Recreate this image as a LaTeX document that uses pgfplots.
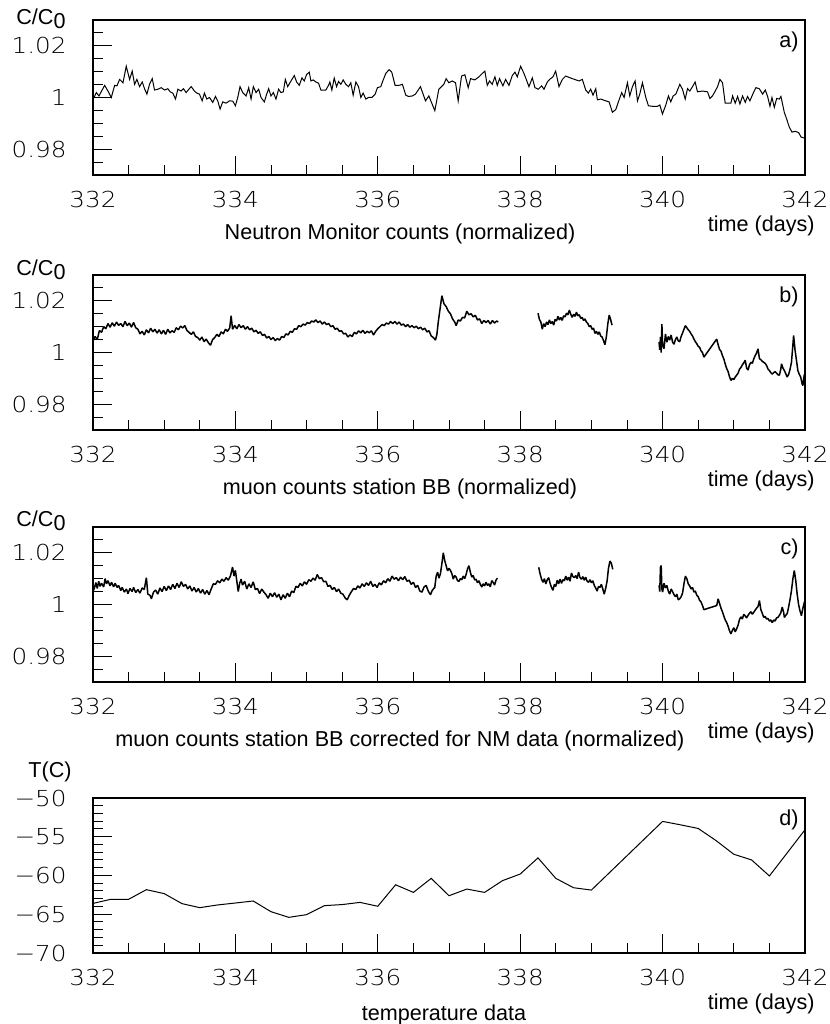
\documentclass[border=0pt]{standalone}
\usepackage{fontspec}
\setmainfont{Liberation Sans}
\newfontfamily\tickfont[FakeStretch=1.12]{DejaVu Sans ExtraLight}
\usepackage{pgfplots}
\pgfplotsset{compat=1.18}
\newcommand\lab{\fontsize{10.8}{12}\selectfont}
\pgfplotsset{
  panel/.style={
    scale only axis, width=356pt, height=77.5pt,
    anchor=north west,
    xmin=332, xmax=342,
    xtick={332,334,336,338,340,342},
    xticklabels={332,334,336,338,340,342},
    minor xtick={332.5,333,...,341.5},
    tick align=inside, tick pos=left,
    major tick length=9.5pt, minor tick length=5pt,
    axis line style={line width=0.75pt},
    every tick/.append style={black, line width=0.5pt},
    tick label style={font=\tickfont\fontsize{11}{12}\selectfont},
    xticklabel style={anchor=north, inner sep=0pt, yshift=-8pt},
    yticklabel style={anchor=east, inner sep=0pt, xshift=-13pt},
    unbounded coords=jump,
  },
  cpanel/.style={panel, ymin=0.97, ymax=1.03,
    ytick={0.98,1,1.02}, yticklabels={0.98,1,1.02},
    minor ytick={0.975,0.985,0.99,0.995,1.005,1.01,1.015,1.025}},
  dline/.style={black, line width=0.5pt, mark=none},
  mline/.style={black, line width=0.75pt, mark=none, line join=bevel},
}
\begin{document}
\begin{tikzpicture}
\useasboundingbox (0,0) rectangle (415pt,512pt);
% ---------------- a) ----------------
\begin{axis}[cpanel, at={(46.5pt,502pt)}]
\addplot[dline] table {
x y
332.014 1.0000
332.047 1.0019
332.084 1.0006
332.164 1.0047
332.210 1.0025
332.257 1.0000
332.304 1.0047
332.336 1.0045
332.374 1.0070
332.421 1.0057
332.467 1.0121
332.514 1.0070
332.551 1.0102
332.584 1.0051
332.617 1.0070
332.654 1.0042
332.692 1.0060
332.724 1.0034
332.757 1.0013
332.794 1.0051
332.832 1.0073
332.864 1.0029
332.911 1.0032
332.958 1.0038
333.005 1.0029
333.051 1.0034
333.084 1.0022
333.121 1.0017
333.159 0.9994
333.192 1.0032
333.238 1.0025
333.271 1.0034
333.308 1.0019
333.346 1.0032
333.379 1.0042
333.425 1.0025
333.458 1.0017
333.495 1.0013
333.533 0.9987
333.565 1.0017
333.598 0.9994
333.636 1.0000
333.682 0.9981
333.720 1.0004
333.752 0.9987
333.785 0.9955
333.822 0.9983
333.869 0.9978
333.916 0.9987
333.963 0.9986
334.000 0.9968
334.033 1.0000
334.065 1.0042
334.103 1.0019
334.150 1.0006
334.187 1.0038
334.220 0.9994
334.252 1.0042
334.290 1.0019
334.327 1.0032
334.360 1.0000
334.407 0.9983
334.439 1.0013
334.467 1.0034
334.500 1.0006
334.533 1.0019
334.570 0.9994
334.607 1.0032
334.640 1.0019
334.673 1.0022
334.701 1.0070
334.734 1.0042
334.766 1.0057
334.794 1.0070
334.827 1.0085
334.860 1.0060
334.897 1.0047
334.935 1.0076
334.967 1.0064
335.000 1.0089
335.037 1.0098
335.061 1.0064
335.093 1.0068
335.131 1.0060
335.168 1.0055
335.201 1.0029
335.234 1.0029
335.271 1.0029
335.308 1.0047
335.327 1.0060
335.355 1.0029
335.388 1.0075
335.421 1.0042
335.449 1.0062
335.481 1.0051
335.514 1.0068
335.551 1.0051
335.589 1.0042
335.621 1.0057
335.654 1.0009
335.692 1.0060
335.729 1.0042
335.762 1.0000
335.794 1.0017
335.832 0.9994
335.869 1.0000
335.916 1.0000
335.963 1.0013
335.995 1.0038
336.042 1.0042
336.065 1.0060
336.112 1.0093
336.159 1.0108
336.196 1.0098
336.243 1.0047
336.299 1.0047
336.346 1.0051
336.393 1.0009
336.430 1.0004
336.486 1.0006
336.529 1.0013
336.599 1.0042
336.670 0.9987
336.717 1.0006
336.801 0.9949
336.857 1.0032
336.927 1.0051
336.960 1.0073
336.998 1.0057
337.045 1.0064
337.092 1.0057
337.129 0.9987
337.176 1.0083
337.223 1.0088
337.270 1.0038
337.303 1.0073
337.363 1.0068
337.420 1.0080
337.467 1.0093
337.504 1.0102
337.537 1.0047
337.570 1.0064
337.607 1.0051
337.645 1.0080
337.678 1.0047
337.710 1.0073
337.757 1.0045
337.795 1.0070
337.842 1.0047
337.889 1.0085
337.926 1.0098
337.959 1.0080
338.006 1.0121
338.053 1.0093
338.085 1.0070
338.123 1.0042
338.170 1.0076
338.207 1.0038
338.254 1.0032
338.301 1.0045
338.334 1.0032
338.381 1.0060
338.413 1.0070
338.460 1.0080
338.498 1.0102
338.545 1.0042
338.592 1.0070
338.639 1.0083
338.732 1.0073
338.826 1.0064
338.873 1.0070
338.920 1.0029
338.957 1.0017
338.990 1.0032
339.023 1.0009
339.061 1.0034
339.084 0.9991
339.131 0.9994
339.201 0.9987
339.248 0.9983
339.295 0.9943
339.342 0.9953
339.389 0.9991
339.426 1.0019
339.459 1.0000
339.506 1.0057
339.539 1.0006
339.576 1.0042
339.614 1.0064
339.647 0.9987
339.679 1.0013
339.717 1.0057
339.764 1.0000
339.801 0.9968
339.857 0.9966
339.928 0.9966
339.961 0.9971
339.998 0.9936
340.045 0.9971
340.082 1.0006
340.115 0.9983
340.148 1.0006
340.186 1.0013
340.242 1.0051
340.279 1.0032
340.317 0.9994
340.350 1.0034
340.382 1.0025
340.420 1.0042
340.457 1.0060
340.490 1.0022
340.561 1.0025
340.631 1.0022
340.664 0.9996
340.701 1.0006
340.739 1.0025
340.772 1.0042
340.805 1.0070
340.842 1.0057
340.879 0.9978
340.959 0.9978
340.983 1.0006
341.020 0.9978
341.053 1.0004
341.086 0.9975
341.123 1.0006
341.161 0.9981
341.193 1.0004
341.226 0.9987
341.273 1.0017
341.311 1.0038
341.358 1.0034
341.405 1.0013
341.442 1.0029
341.475 1.0004
341.508 0.9966
341.536 1.0000
341.569 0.9962
341.602 0.9996
341.639 0.9994
341.662 1.0004
341.709 0.9943
341.742 0.9917
341.780 0.9885
341.817 0.9866
341.864 0.9869
341.911 0.9864
341.944 0.9847
341.990 0.9843
};
\end{axis}
% ---------------- b) ----------------
\begin{axis}[cpanel, at={(46.5pt,374.5pt)}]
\addplot[mline] table {
x y
332.00 1.0045
332.03 1.0062
332.06 1.0050
332.09 1.0085
332.12 1.0078
332.15 1.0100
332.18 1.0092
332.21 1.0112
332.24 1.0098
332.27 1.0115
332.30 1.0102
332.33 1.0118
332.36 1.0105
332.39 1.0112
332.42 1.0100
332.45 1.0120
332.48 1.0104
332.51 1.0114
332.54 1.0098
332.57 1.0116
332.60 1.0096
332.63 1.0090
332.66 1.0072
332.69 1.0082
332.72 1.0068
332.75 1.0088
332.78 1.0076
332.81 1.0094
332.84 1.0080
332.87 1.0090
332.90 1.0075
332.93 1.0088
332.96 1.0072
332.99 1.0086
333.02 1.0070
333.05 1.0090
333.08 1.0076
333.11 1.0084
333.14 1.0078
333.17 1.0096
333.20 1.0088
333.23 1.0102
333.26 1.0095
333.29 1.0104
333.32 1.0085
333.35 1.0078
333.38 1.0070
333.41 1.0080
333.44 1.0062
333.47 1.0058
333.50 1.0048
333.53 1.0060
333.56 1.0042
333.59 1.0052
333.62 1.0038
333.65 1.0028
333.68 1.0050
333.71 1.0058
333.74 1.0070
333.77 1.0062
333.80 1.0080
333.83 1.0072
333.86 1.0090
333.89 1.0082
333.92 1.0095
333.94 1.0142
333.96 1.0090
333.99 1.0105
334.02 1.0092
334.05 1.0108
334.08 1.0096
334.11 1.0104
334.14 1.0090
334.17 1.0100
334.20 1.0088
334.23 1.0094
334.26 1.0080
334.29 1.0086
334.32 1.0074
334.35 1.0080
334.38 1.0066
334.41 1.0070
334.44 1.0056
334.47 1.0062
334.50 1.0050
334.53 1.0058
334.56 1.0046
334.59 1.0054
334.62 1.0048
334.65 1.0062
334.68 1.0058
334.71 1.0072
334.74 1.0068
334.77 1.0082
334.80 1.0078
334.83 1.0092
334.86 1.0090
334.89 1.0104
334.92 1.0100
334.95 1.0110
334.98 1.0106
335.01 1.0116
335.04 1.0112
335.07 1.0122
335.10 1.0118
335.13 1.0126
335.16 1.0116
335.19 1.0122
335.22 1.0110
335.25 1.0118
335.28 1.0108
335.31 1.0112
335.34 1.0100
335.37 1.0104
335.40 1.0090
335.43 1.0094
335.46 1.0082
335.49 1.0084
335.52 1.0072
335.55 1.0074
335.58 1.0060
335.61 1.0068
335.64 1.0062
335.67 1.0078
335.70 1.0072
335.73 1.0084
335.76 1.0076
335.79 1.0086
335.82 1.0074
335.85 1.0082
335.88 1.0076
335.91 1.0084
335.94 1.0068
335.97 1.0082
336.00 1.0092
336.03 1.0100
336.06 1.0108
336.09 1.0104
336.12 1.0114
336.15 1.0110
336.18 1.0120
336.21 1.0112
336.24 1.0120
336.27 1.0110
336.30 1.0118
336.33 1.0106
336.36 1.0110
336.39 1.0100
336.42 1.0108
336.45 1.0098
336.48 1.0104
336.51 1.0096
336.54 1.0102
336.57 1.0092
336.60 1.0098
336.63 1.0088
336.66 1.0094
336.69 1.0080
336.72 1.0084
336.75 1.0064
336.78 1.0058
336.81 1.0048
336.83 1.0070
336.85 1.0120
336.87 1.0160
336.90 1.0220
336.93 1.0188
336.96 1.0178
336.99 1.0160
337.02 1.0150
337.05 1.0130
337.08 1.0118
337.10 1.0104
337.13 1.0126
337.16 1.0122
337.19 1.0136
337.22 1.0134
337.25 1.0160
337.28 1.0146
337.31 1.0150
337.34 1.0138
337.37 1.0144
337.40 1.0126
337.43 1.0130
337.46 1.0112
337.49 1.0124
337.52 1.0116
337.55 1.0124
337.58 1.0110
337.61 1.0124
337.64 1.0114
337.67 1.0122
337.69 1.0118
337.70 nan
338.25 1.0152
338.27 1.0128
338.29 1.0118
338.31 1.0090
338.33 1.0112
338.35 1.0100
338.37 1.0118
338.39 1.0108
338.41 1.0126
338.43 1.0112
338.45 1.0120
338.47 1.0106
338.49 1.0128
338.51 1.0122
338.53 1.0140
338.55 1.0126
338.57 1.0136
338.59 1.0124
338.61 1.0142
338.63 1.0138
338.65 1.0152
338.67 1.0146
338.69 1.0164
338.71 1.0148
338.73 1.0136
338.75 1.0148
338.77 1.0140
338.79 1.0156
338.81 1.0142
338.83 1.0146
338.85 1.0132
338.87 1.0136
338.89 1.0124
338.91 1.0130
338.93 1.0118
338.95 1.0112
338.97 1.0100
338.99 1.0104
339.01 1.0090
339.03 1.0094
339.05 1.0074
339.07 1.0082
339.09 1.0070
339.11 1.0080
339.13 1.0064
339.15 1.0060
339.17 1.0046
339.19 1.0030
339.21 1.0060
339.23 1.0110
339.25 1.0145
339.27 1.0128
339.29 1.0106
339.30 nan
339.95 1.0040
339.96 1.0010
339.97 1.0060
339.98 1.0000
339.99 1.0110
340.00 1.0030
340.02 1.0015
340.04 1.0072
340.06 1.0040
340.08 1.0062
340.10 1.0048
340.12 1.0068
340.14 1.0040
340.16 1.0032
340.18 1.0050
340.20 1.0060
340.22 1.0045
340.24 1.0042
340.26 1.0062
340.28 1.0075
340.30 1.0090
340.32 1.0104
340.34 1.0096
340.36 1.0088
340.38 1.0082
340.40 1.0072
340.42 1.0064
340.44 1.0052
340.46 1.0042
340.48 1.0034
340.50 1.0024
340.52 1.0020
340.54 1.0006
340.56 1.0000
340.58 0.9982
340.76 1.0052
340.78 1.0030
340.80 1.0012
340.82 1.0005
340.84 0.9988
340.86 0.9975
340.88 0.9955
340.90 0.9938
340.92 0.9926
340.94 0.9906
340.96 0.9892
340.98 0.9900
341.00 0.9895
341.02 0.9905
341.04 0.9912
341.06 0.9920
341.08 0.9935
341.10 0.9942
341.12 0.9952
341.14 0.9960
341.16 0.9970
341.18 0.9940
341.20 0.9932
341.22 0.9952
341.24 0.9962
341.26 0.9958
341.28 0.9975
341.30 0.9988
341.32 0.9998
341.34 1.0014
341.36 0.9976
341.38 0.9972
341.40 0.9966
341.42 0.9962
341.44 0.9958
341.46 0.9950
341.48 0.9936
341.50 0.9930
341.52 0.9922
341.54 0.9916
341.56 0.9922
341.58 0.9926
341.60 0.9920
341.62 0.9914
341.64 0.9912
341.66 0.9935
341.67 0.9956
341.69 0.9940
341.71 0.9930
341.73 0.9918
341.75 0.9905
341.77 0.9915
341.79 0.9935
341.81 0.9962
341.83 1.0030
341.84 1.0066
341.86 1.0010
341.88 0.9970
341.90 0.9930
341.92 0.9915
341.94 0.9905
341.96 0.9878
341.97 0.9872
341.99 0.9915
342.00 0.9905
};
\end{axis}
% ---------------- c) ----------------
\begin{axis}[cpanel, at={(46.5pt,248.5pt)}]
\addplot[mline] table {
x y
332.00 1.0050
332.02 1.0064
332.04 1.0085
332.06 1.0062
332.08 1.0090
332.10 1.0070
332.12 1.0082
332.15 1.0068
332.17 1.0100
332.19 1.0080
332.21 1.0092
332.24 1.0072
332.26 1.0086
332.29 1.0068
332.31 1.0082
332.34 1.0066
332.36 1.0074
332.39 1.0054
332.41 1.0066
332.44 1.0048
332.47 1.0060
332.49 1.0042
332.52 1.0062
332.55 1.0050
332.57 1.0066
332.60 1.0046
332.63 1.0058
332.66 1.0044
332.69 1.0064
332.72 1.0058
332.75 1.0104
332.77 1.0040
332.80 1.0036
332.82 1.0022
332.85 1.0048
332.88 1.0056
332.91 1.0040
332.94 1.0064
332.97 1.0050
333.00 1.0070
333.03 1.0054
333.06 1.0072
333.09 1.0058
333.12 1.0078
333.15 1.0062
333.18 1.0082
333.21 1.0066
333.24 1.0088
333.27 1.0070
333.30 1.0078
333.33 1.0060
333.36 1.0072
333.39 1.0052
333.42 1.0066
333.45 1.0048
333.48 1.0062
333.51 1.0044
333.54 1.0058
333.57 1.0040
333.60 1.0054
333.63 1.0038
333.66 1.0060
333.69 1.0080
333.72 1.0078
333.75 1.0092
333.78 1.0084
333.81 1.0098
333.84 1.0090
333.87 1.0104
333.90 1.0094
333.93 1.0110
333.96 1.0145
333.98 1.0110
334.00 1.0132
334.02 1.0090
334.04 1.0050
334.06 1.0082
334.08 1.0098
334.10 1.0075
334.13 1.0090
334.16 1.0060
334.19 1.0080
334.22 1.0066
334.25 1.0088
334.28 1.0058
334.31 1.0062
334.34 1.0042
334.37 1.0060
334.40 1.0048
334.43 1.0038
334.46 1.0024
334.49 1.0044
334.52 1.0030
334.55 1.0046
334.58 1.0028
334.61 1.0040
334.64 1.0018
334.67 1.0038
334.70 1.0024
334.73 1.0044
334.76 1.0030
334.79 1.0052
334.82 1.0046
334.85 1.0070
334.88 1.0066
334.91 1.0082
334.94 1.0072
334.97 1.0088
335.00 1.0078
335.03 1.0096
335.06 1.0090
335.09 1.0102
335.12 1.0094
335.15 1.0116
335.18 1.0100
335.21 1.0104
335.24 1.0088
335.27 1.0090
335.30 1.0070
335.33 1.0074
335.36 1.0058
335.39 1.0066
335.42 1.0050
335.45 1.0060
335.48 1.0044
335.51 1.0040
335.54 1.0026
335.57 1.0018
335.60 1.0036
335.63 1.0050
335.66 1.0062
335.69 1.0058
335.72 1.0072
335.75 1.0064
335.78 1.0080
335.81 1.0070
335.84 1.0084
335.87 1.0074
335.90 1.0090
335.93 1.0070
335.96 1.0078
335.99 1.0066
336.02 1.0084
336.05 1.0076
336.08 1.0092
336.11 1.0084
336.14 1.0100
336.17 1.0090
336.20 1.0110
336.23 1.0098
336.26 1.0104
336.29 1.0092
336.32 1.0106
336.35 1.0096
336.38 1.0108
336.41 1.0090
336.44 1.0094
336.47 1.0078
336.50 1.0086
336.53 1.0066
336.56 1.0074
336.59 1.0052
336.62 1.0048
336.65 1.0068
336.68 1.0074
336.70 1.0058
336.72 1.0046
336.74 1.0038
336.76 1.0052
336.78 1.0060
336.80 1.0066
336.82 1.0110
336.84 1.0125
336.86 1.0102
336.88 1.0120
336.90 1.0158
336.92 1.0200
336.94 1.0170
336.96 1.0150
336.98 1.0130
337.00 1.0140
337.02 1.0132
337.04 1.0120
337.06 1.0098
337.08 1.0112
337.10 1.0106
337.12 1.0092
337.14 1.0090
337.16 1.0100
337.18 1.0096
337.20 1.0110
337.22 1.0100
337.24 1.0116
337.26 1.0138
337.28 1.0150
337.30 1.0125
337.32 1.0106
337.34 1.0112
337.36 1.0095
337.38 1.0098
337.40 1.0084
337.42 1.0092
337.44 1.0078
337.46 1.0068
337.48 1.0080
337.50 1.0072
337.52 1.0086
337.54 1.0074
337.56 1.0080
337.58 1.0068
337.60 1.0092
337.62 1.0086
337.64 1.0075
337.66 1.0094
337.68 1.0102
337.69 nan
338.26 1.0144
338.28 1.0118
338.30 1.0098
338.32 1.0086
338.34 1.0100
338.36 1.0080
338.38 1.0096
338.40 1.0104
338.42 1.0082
338.44 1.0066
338.46 1.0055
338.48 1.0078
338.50 1.0070
338.52 1.0094
338.54 1.0080
338.56 1.0098
338.58 1.0082
338.60 1.0096
338.62 1.0092
338.64 1.0110
338.66 1.0094
338.68 1.0106
338.70 1.0090
338.72 1.0122
338.74 1.0108
338.76 1.0104
338.78 1.0112
338.80 1.0100
338.82 1.0126
338.84 1.0104
338.86 1.0098
338.88 1.0108
338.90 1.0094
338.92 1.0106
338.94 1.0090
338.96 1.0086
338.98 1.0096
339.00 1.0084
339.02 1.0092
339.04 1.0074
339.06 1.0064
339.08 1.0052
339.10 1.0070
339.12 1.0066
339.14 1.0078
339.16 1.0060
339.18 1.0040
339.20 1.0062
339.22 1.0090
339.24 1.0140
339.26 1.0168
339.28 1.0160
339.30 1.0136
339.31 nan
339.95 1.0074
339.96 1.0050
339.97 1.0144
339.98 1.0151
339.99 1.0060
340.00 1.0048
340.02 1.0082
340.04 1.0064
340.06 1.0074
340.08 1.0052
340.10 1.0040
340.12 1.0060
340.14 1.0050
340.16 1.0038
340.18 1.0030
340.20 1.0040
340.22 1.0018
340.24 1.0022
340.26 1.0030
340.28 1.0044
340.30 1.0080
340.32 1.0110
340.34 1.0100
340.36 1.0080
340.38 1.0072
340.40 1.0060
340.42 1.0066
340.44 1.0048
340.46 1.0052
340.48 1.0036
340.50 1.0030
340.52 1.0016
340.54 1.0010
340.56 0.9996
340.58 0.9980
340.76 0.9996
340.78 1.0022
340.80 1.0004
340.82 0.9986
340.84 0.9972
340.86 0.9955
340.88 0.9940
340.90 0.9930
340.92 0.9916
340.94 0.9898
340.96 0.9886
340.98 0.9900
341.00 0.9910
341.02 0.9894
341.04 0.9906
341.06 0.9920
341.08 0.9942
341.10 0.9952
341.12 0.9944
341.14 0.9962
341.16 0.9956
341.18 0.9948
341.20 0.9958
341.22 0.9966
341.24 0.9972
341.26 0.9962
341.28 0.9970
341.30 0.9978
341.32 0.9986
341.34 0.9992
341.36 1.0015
341.38 0.9980
341.40 0.9966
341.42 0.9950
341.44 0.9954
341.46 0.9944
341.48 0.9946
341.50 0.9936
341.52 0.9940
341.54 0.9930
341.56 0.9940
341.58 0.9936
341.60 0.9948
341.62 0.9950
341.64 0.9958
341.66 0.9968
341.68 0.9990
341.70 0.9970
341.71 0.9950
341.73 0.9958
341.75 0.9965
341.77 0.9990
341.79 1.0020
341.81 1.0054
341.83 1.0100
341.85 1.0132
341.87 1.0093
341.89 1.0040
341.91 1.0000
341.93 0.9975
341.95 0.9957
341.97 0.9985
341.99 1.0008
342.00 1.0015
};
\end{axis}
% ---------------- d) ----------------
\begin{axis}[panel, at={(46.5pt,113pt)}, ymin=-70, ymax=-50,
  ytick={-70,-65,-60,-55,-50},
  yticklabels={−70,−65,−60,−55,−50},
  minor ytick={-69,-68,...,-51}]
\addplot[dline] table {
x y
332.00 -63.60
332.25 -63.07
332.50 -63.07
332.75 -61.83
333.00 -62.34
333.25 -63.63
333.50 -64.15
333.75 -63.80
334.00 -63.55
334.25 -63.29
334.50 -64.67
334.75 -65.40
335.00 -65.05
335.25 -63.89
335.50 -63.75
335.75 -63.47
336.00 -63.97
336.25 -61.20
336.50 -62.18
336.75 -60.37
337.00 -62.61
337.25 -61.75
337.50 -62.18
337.75 -60.67
338.00 -59.81
338.25 -57.73
338.50 -60.37
338.75 -61.58
339.00 -61.88
340.00 -53.02
340.25 -53.46
340.50 -53.93
340.75 -55.49
341.00 -57.26
341.25 -57.99
341.50 -60.06
342.00 -54.10
};
\end{axis}
% ---------------- texts ----------------
\node[anchor=base east, inner sep=0pt] at (33pt,499.5pt) {\lab C/C\raisebox{-0.3ex}{0}};
\node[anchor=base east, inner sep=0pt] at (33pt,374pt) {\lab C/C\raisebox{-0.3ex}{0}};
\node[anchor=base east, inner sep=0pt] at (33pt,248.5pt) {\lab C/C\raisebox{-0.3ex}{0}};
\node[anchor=east, inner sep=0pt] at (36pt,126pt) {\lab T(C)};
\node[anchor=east, inner sep=0pt] at (399.5pt,491pt) {\lab a)};
\node[anchor=east, inner sep=0pt] at (399.5pt,363.5pt) {\lab b)};
\node[anchor=east, inner sep=0pt] at (399.5pt,237.5pt) {\lab c)};
\node[anchor=east, inner sep=0pt] at (399.5pt,102pt) {\lab d)};
\node[anchor=east, inner sep=0pt] at (407.5pt,399pt) {\lab time (days)};
\node[anchor=east, inner sep=0pt] at (407.5pt,271.5pt) {\lab time (days)};
\node[anchor=east, inner sep=0pt] at (407.5pt,145.5pt) {\lab time (days)};
\node[anchor=east, inner sep=0pt] at (407.5pt,10pt) {\lab time (days)};
\node[inner sep=0pt] at (200pt,395pt) {\lab Neutron Monitor counts (normalized)};
\node[inner sep=0pt] at (200pt,267.5pt) {\lab muon counts station BB (normalized)};
\node[inner sep=0pt] at (200pt,141.5pt) {\lab muon counts station BB corrected for NM data (normalized)};
\node[inner sep=0pt] at (222pt,4.5pt) {\lab temperature data};
\end{tikzpicture}
\end{document}
